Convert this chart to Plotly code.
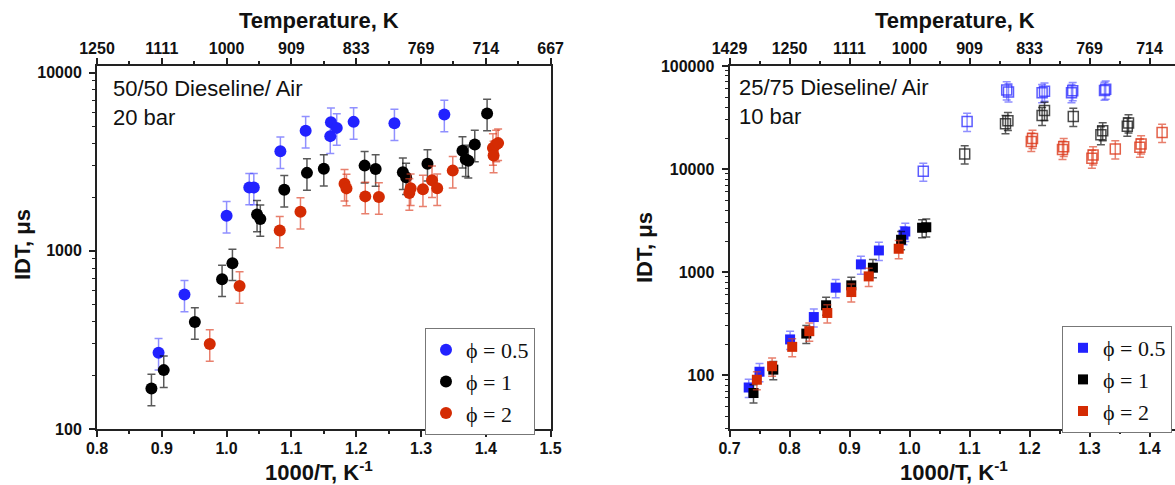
import plotly.graph_objects as go

# ---------------- 50/50 Dieseline / Air, 20 bar ----------------
left_x_phi05 = [0.895, 0.935, 1.000, 1.035, 1.042, 1.083, 1.122, 1.160, 1.161, 1.170, 1.196, 1.259, 1.336]
left_y_phi05 = [268, 568, 1574, 2265, 2265, 3620, 4720, 4400, 5270, 4895, 5290, 5190, 5820]

left_x_phi1 = [0.884, 0.903, 0.951, 0.993, 1.009, 1.047, 1.052, 1.089, 1.124, 1.150, 1.213, 1.230,
               1.272, 1.277, 1.310, 1.364, 1.369, 1.373, 1.383, 1.402]
left_y_phi1 = [169, 214, 399, 692, 851, 1597, 1507, 2203, 2737, 2884, 3006, 2880,
               2761, 2585, 3077, 3640, 3260, 3200, 3950, 5900]

left_x_phi2 = [0.974, 1.020, 1.082, 1.114, 1.182, 1.185, 1.214, 1.235, 1.282, 1.284, 1.303,
               1.317, 1.325, 1.349, 1.411, 1.412, 1.416, 1.419]
left_y_phi2 = [300, 635, 1300, 1656, 2380, 2240, 2020, 2006, 2113, 2245, 2215,
               2490, 2245, 2818, 3780, 3430, 3950, 4020]

# ---------------- 25/75 Dieseline / Air, 10 bar ----------------
# high-temperature branch (filled squares)
right_x_phi05 = [0.732, 0.750, 0.801, 0.8405, 0.877, 0.919, 0.949, 0.990, 0.993]
right_y_phi05 = [76, 108, 222, 366, 706, 1188, 1622, 2300, 2480]

right_x_phi1 = [0.740, 0.773, 0.828, 0.861, 0.903, 0.939, 0.986, 1.021, 1.028]
right_y_phi1 = [67, 113, 253, 476, 743, 1103, 2061, 2690, 2730]

right_x_phi2 = [0.7456, 0.771, 0.8045, 0.833, 0.863, 0.903, 0.932, 0.982]
right_y_phi2 = [90, 122, 188, 267, 401, 640, 908, 1685]

# low-temperature branch (open squares)
right_xo_phi05 = [1.023, 1.096, 1.162, 1.165, 1.221, 1.225, 1.270, 1.272, 1.325, 1.327]
right_yo_phi05 = [9510, 28960, 58500, 56000, 55000, 57000, 55000, 57500, 58000, 59500]

right_xo_phi1 = [1.092, 1.160, 1.164, 1.221, 1.225, 1.273, 1.319, 1.322, 1.363, 1.365]
right_yo_phi1 = [14000, 27500, 29500, 33000, 37000, 32350, 21500, 23500, 26000, 28000]

right_xo_phi2 = [1.203, 1.205, 1.255, 1.257, 1.304, 1.306, 1.343, 1.384, 1.386, 1.421]
right_yo_phi2 = [18500, 19800, 15500, 16500, 12700, 13700, 15650, 16300, 17500, 22650]

ERR_PCT = 20  # relative uncertainty of each ignition delay, %

# axis tick labels
left_bottom_ticks = [0.8, 0.9, 1.0, 1.1, 1.2, 1.3, 1.4, 1.5]
left_top_labels = ["1250", "1111", "1000", "909", "833", "769", "714", "667"]
right_bottom_ticks = [0.7, 0.8, 0.9, 1.0, 1.1, 1.2, 1.3, 1.4]
right_top_labels = ["1429", "1250", "1111", "1000", "909", "833", "769", "714"]
left_y_ticks = [100, 1000, 10000]
right_y_ticks = [100, 1000, 10000, 100000]

series_names = ["\u03d5 = 0.5", "\u03d5 = 1", "\u03d5 = 2"]

BLUE, BLACK, RED = "#2222ff", "#000000", "#d42b03"
ERR_COL = {BLUE: "rgba(70,70,255,0.6)", BLACK: "rgba(0,0,0,0.65)", RED: "rgba(220,60,30,0.65)"}
OPEN_COL = {BLUE: "rgba(50,50,255,0.8)", BLACK: "rgba(30,30,30,0.8)", RED: "rgba(220,55,25,0.8)"}

SANS = "Liberation Sans, Arial, sans-serif"
SERIF = "Liberation Serif, Times New Roman, serif"
AX_COL = "#222222"

fig = go.Figure()


def err(color):
    return dict(type="percent", value=ERR_PCT, color=ERR_COL[color], thickness=1.5, width=4)


def log_minor(lo_decade, hi_decade):
    # 2..9 x 10^n minor tick positions of a log axis
    return [m * 10 ** d for d in range(lo_decade, hi_decade) for m in range(2, 10)]


# left panel: filled circles
for xs, ys, col, name in [(left_x_phi05, left_y_phi05, BLUE, series_names[0]),
                          (left_x_phi1, left_y_phi1, BLACK, series_names[1]),
                          (left_x_phi2, left_y_phi2, RED, series_names[2])]:
    fig.add_trace(go.Scatter(
        x=xs, y=ys, mode="markers", name=name, legend="legend",
        marker=dict(symbol="circle", size=12, color=col, line=dict(width=0)),
        error_y=err(col), xaxis="x", yaxis="y"))

# right panel: open squares (low-temperature), then filled squares
for xs, ys, col in [(right_xo_phi05, right_yo_phi05, BLUE),
                    (right_xo_phi1, right_yo_phi1, BLACK),
                    (right_xo_phi2, right_yo_phi2, RED)]:
    fig.add_trace(go.Scatter(
        x=xs, y=ys, mode="markers", showlegend=False,
        marker=dict(symbol="square-open", size=10, color=OPEN_COL[col], line=dict(width=1.5)),
        error_y=err(col), xaxis="x2", yaxis="y2"))

for xs, ys, col, name in [(right_x_phi05, right_y_phi05, BLUE, series_names[0]),
                          (right_x_phi1, right_y_phi1, BLACK, series_names[1]),
                          (right_x_phi2, right_y_phi2, RED, series_names[2])]:
    fig.add_trace(go.Scatter(
        x=xs, y=ys, mode="markers", name=name, legend="legend2",
        marker=dict(symbol="square", size=10, color=col, line=dict(width=0)),
        error_y=err(col), xaxis="x2", yaxis="y2"))

# empty traces so the top temperature axes are drawn
fig.add_trace(go.Scatter(x=[None], y=[None], xaxis="x3", yaxis="y", showlegend=False))
fig.add_trace(go.Scatter(x=[None], y=[None], xaxis="x4", yaxis="y2", showlegend=False))

tickfont = dict(family=SANS, size=16, color="#111", weight="bold")
common_x = dict(showgrid=False, zeroline=False, showline=True, linewidth=2, linecolor=AX_COL,
                ticks="outside", ticklen=6, tickwidth=1.5, tickcolor=AX_COL, tickfont=tickfont,
                ticklabelstandoff=-2,
                minor=dict(ticks="outside", ticklen=3, tickwidth=1.5, tickcolor=AX_COL, dtick=0.05))
common_y = dict(type="log", showgrid=False, zeroline=False, showline=True, linewidth=2,
                linecolor=AX_COL, ticks="outside", ticklen=6, tickwidth=1.5, tickcolor=AX_COL,
                tickfont=tickfont, tickmode="array", ticklabelstandoff=4)

YDOM = [1 - 429 / 485, 1 - 66 / 485]
LDOM = [97 / 1175, 550.6 / 1175]
RDOM = [729.5 / 1175, 1.0]
R_XMAX = 0.7 + (1175 - 729.5) / 600

fig.update_layout(
    width=1175, height=485,
    margin=dict(l=0, r=0, t=0, b=0, autoexpand=False),
    paper_bgcolor="white", plot_bgcolor="white",
    xaxis=dict(common_x, domain=LDOM, range=[0.8, 1.5], anchor="y",
               tickmode="array", tickvals=left_bottom_ticks, ticktext=[f"{v:.1f}" for v in left_bottom_ticks]),
    xaxis3=dict(common_x, domain=LDOM, range=[0.8, 1.5], anchor="y", overlaying="x", side="top",
                tickmode="array", tickvals=left_bottom_ticks, ticktext=left_top_labels),
    yaxis=dict(common_y, domain=YDOM, range=[2, 4.037], anchor="x", mirror=True,
               tickvals=left_y_ticks, ticktext=[str(v) for v in left_y_ticks],
               minor=dict(ticks="outside", ticklen=3, tickwidth=1.2, tickcolor=AX_COL,
                          tickvals=log_minor(2, 4))),
    xaxis2=dict(common_x, domain=RDOM, range=[0.7, R_XMAX], anchor="y2",
                tickmode="array", tickvals=right_bottom_ticks, ticktext=[f"{v:.1f}" for v in right_bottom_ticks]),
    xaxis4=dict(common_x, domain=RDOM, range=[0.7, R_XMAX], anchor="y2", overlaying="x2", side="top",
                tickmode="array", tickvals=right_bottom_ticks, ticktext=right_top_labels),
    yaxis2=dict(common_y, domain=YDOM, range=[1.477, 5.0], anchor="x2",
                tickvals=right_y_ticks, ticktext=[str(v) for v in right_y_ticks],
                minor=dict(ticks="outside", ticklen=3, tickwidth=1.2, tickcolor=AX_COL,
                           tickvals=log_minor(1, 5))),
    legend=dict(x=425 / 1175, y=1 - 328 / 485, xanchor="left", yanchor="top",
                bgcolor="white", bordercolor="#777", borderwidth=1,
                font=dict(family=SERIF, size=22, color="#111"), itemsizing="trace"),
    legend2=dict(x=1062 / 1175, y=1 - 326 / 485, xanchor="left", yanchor="top",
                 bgcolor="white", bordercolor="#777", borderwidth=1,
                 font=dict(family=SERIF, size=22, color="#111"), itemsizing="trace"),
)

title_font = dict(family=SANS, size=22, color="#111", weight="bold")
text_font = dict(family=SANS, size=22, color="#111")


def paper_annot(text, x, y, font, xanchor="center", **kw):
    fig.add_annotation(text=text, x=x / 1175, y=1 - y / 485, xref="paper", yref="paper",
                       xanchor=xanchor, yanchor="middle", showarrow=False, font=font, **kw)


paper_annot("Temperature, K", 319, 21, title_font)
paper_annot("Temperature, K", 955, 21, title_font)
paper_annot("1000/T, K<sup>-1</sup>", 319, 471, title_font)
paper_annot("1000/T, K<sup>-1</sup>", 954, 471, title_font)
paper_annot("IDT, \u03bcs", 22, 245, title_font, textangle=-90)
paper_annot("IDT, \u03bcs", 645, 248, title_font, textangle=-90)
paper_annot("50/50 Dieseline/ Air<br>20 bar", 111, 103, text_font, xanchor="left", align="left")
paper_annot("25/75 Dieseline/ Air<br>10 bar", 737, 102, text_font, xanchor="left", align="left")

fig.write_html("out.html")
